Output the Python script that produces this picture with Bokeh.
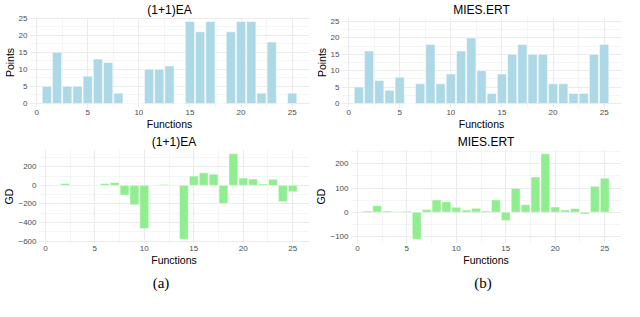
from bokeh.plotting import figure
from bokeh.layouts import column, row
from bokeh.models import FixedTicker, Div, Range1d, CustomJSTickFormatter
from bokeh.embed import file_html
from bokeh.resources import INLINE

functions = list(range(1, 26))
ea_points = [5, 15, 5, 5, 8, 13, 12, 3, 0, 0, 10, 10, 11, 0, 24, 21, 24, 0, 21, 24, 24, 3, 18, 0, 3]
mies_points = [5, 16, 7, 4, 8, 0, 6, 18, 6, 9, 16, 20, 10, 3, 9, 15, 18, 15, 15, 6, 6, 3, 3, 15, 18]
ea_gd = [-3, 20, -3, -5, -3, 20, 30, -105, -210, -465, -3, 8, -3, -580, 100, 135, 120, -195,
         340, 80, 68, 15, 65, -175, -68]
mies_gd = [5, 27, 5, 2, 4, -112, 11, 51, 43, 20, 9, 16, 5, 51, -34, 99, 31, 146, 242, 22, 9,
           15, -8, 107, 141]

x_ticks = [0, 5, 10, 15, 20, 25]
points_ticks = [0, 5, 10, 15, 20, 25]
points_limit = 25
ea_gd_ticks = [-600, -400, -200, 0, 200]
mies_gd_ticks = [-100, 0, 100, 200]

BLUE = "#ADD8E6"
GREEN = "#90EE90"
SANS = "Liberation Sans"


def minor_of(ticks, lo, hi):
    step = ticks[1] - ticks[0]
    cands = [ticks[0] - step / 2] + [t + step / 2 for t in ticks]
    return [c for c in cands if lo <= c <= hi]


def expand(lo, hi, f=0.05):
    d = (hi - lo) * f
    return lo - d, hi + d


def make(title, ylabel, vals, color, yticks, ylim, left, top, height):
    xlo, xhi = expand(0.55, 25.45)
    ylo, yhi = ylim
    p = figure(width=312, height=height, output_backend="svg", toolbar_location=None,
               x_range=Range1d(xlo, xhi), y_range=Range1d(ylo, yhi),
               min_border_left=left, min_border_right=3, min_border_top=top,
               min_border_bottom=10)
    p.vbar(x=functions, top=vals, bottom=0, width=0.9, fill_color=color,
           line_color="white", line_width=0.5)
    p.title.text = title
    p.title.align = "center"
    p.title.text_font = SANS
    p.title.text_font_size = "12px"
    p.title.text_font_style = "normal"
    p.title.text_color = "black"
    p.title.standoff = 1
    p.title.offset = 0
    p.xaxis.ticker = FixedTicker(ticks=x_ticks, minor_ticks=minor_of(x_ticks, xlo, xhi))
    p.yaxis.ticker = FixedTicker(ticks=yticks, minor_ticks=minor_of(yticks, ylo, yhi))
    p.yaxis.formatter = CustomJSTickFormatter(
        code="return tick < 0 ? '\u2212' + Math.abs(tick) : String(tick);")
    p.xaxis.axis_label = "Functions"
    p.yaxis.axis_label = ylabel
    for ax in (p.xaxis, p.yaxis):
        ax.axis_line_color = None
        ax.major_tick_line_color = None
        ax.minor_tick_line_color = None
        ax.major_tick_out = 0
        ax.major_tick_in = 0
        ax.minor_tick_out = 0
        ax.minor_tick_in = 0
        ax.major_label_text_font = SANS
        ax.major_label_text_font_size = "8px"
        ax.major_label_text_color = "#4D4D4D"
        ax.major_label_standoff = 2
        ax.axis_label_text_font = SANS
        ax.axis_label_text_font_size = "10.5px"
        ax.axis_label_text_font_style = "normal"
        ax.axis_label_text_color = "black"
        ax.axis_label_standoff = 0
    for g in (p.xgrid, p.ygrid):
        g.grid_line_color = "#EBEBEB"
        g.grid_line_width = 1
        g.minor_grid_line_color = "#EBEBEB"
        g.minor_grid_line_width = 0.5
    p.outline_line_color = None
    p.background_fill_color = "white"
    p.border_fill_color = "white"
    return p


p1 = make("(1+1)EA", "Points", ea_points, BLUE, points_ticks, expand(0, max(ea_points)), 18, 14, 132)
p2 = make("MIES.ERT", "Points", mies_points, BLUE, points_ticks, expand(0, points_limit), 22, 14, 132)
p3 = make("(1+1)EA", "GD", ea_gd, GREEN, ea_gd_ticks, expand(min(ea_gd), max(ea_gd)), 26, 17, 136)
p4 = make("MIES.ERT", "GD", mies_gd, GREEN, mies_gd_ticks, expand(min(mies_gd), max(mies_gd)), 30, 17, 136)

lab_style = {"font-family": "Liberation Serif", "font-size": "15px", "text-align": "center",
             "width": "312px", "color": "black", "margin-top": "5px"}
da = Div(text="(a)", width=312, height=26, styles=lab_style)
db = Div(text="(b)", width=312, height=26, styles=lab_style)

layout = column(row(p1, p2), row(p3, p4), row(da, db))
open("out.html", "w").write(file_html(layout, INLINE))
